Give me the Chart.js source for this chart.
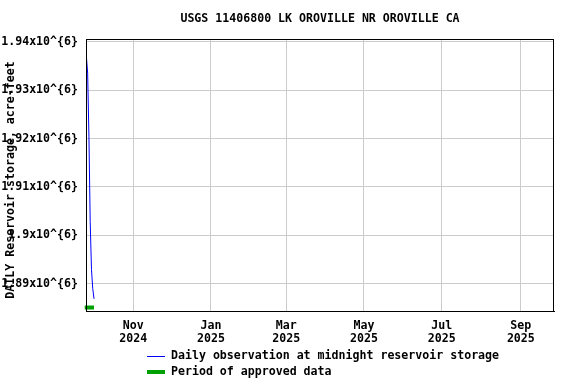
<!DOCTYPE html>
<html><head><meta charset="utf-8">
<script src="https://cdn.jsdelivr.net/npm/chart.js@4/dist/chart.umd.min.js"></script>
<style>html,body{margin:0;padding:0;background:#fff}canvas{display:block}</style>
</head><body>
<canvas id="c" width="576" height="384"></canvas>
<script>
// ---- data ----
const titleText = 'USGS 11406800 LK OROVILLE NR OROVILLE CA';
const yAxisTitle = 'DAILY Reservoir storage, acre-feet';
// midnight Pacific time observations (UTC timestamps)
const obsDates = ['2024-09-25T07:00','2024-09-26T07:00','2024-09-27T07:00','2024-09-28T07:00','2024-09-29T07:00','2024-09-30T07:00','2024-10-01T07:00'];
const obsStorage = [1937000, 1933500, 1920500, 1902900, 1893000, 1889000, 1886900];
const approvedDates = ['2024-09-24T00:00','2024-10-01T07:00'];
const approvedLevel = [1885110, 1885110];
const xTickDates = ['2024-11-01T00:00','2025-01-01T00:00','2025-03-01T00:00','2025-05-01T00:00','2025-07-01T00:00','2025-09-01T00:00'];
const xTickLabels = [['Nov','2024'],['Jan','2025'],['Mar','2025'],['May','2025'],['Jul','2025'],['Sep','2025']];
const yTicks = [1890000, 1900000, 1910000, 1920000, 1930000, 1940000];
const xRange = ['2024-09-25T00:00','2025-09-27T00:00'];
const yRange = [1884390, 1940560];
const seriesLabels = ['Daily observation at midnight reservoir storage','Period of approved data'];

const day = s => Date.parse(s + ':00Z') / 86400000;
const FONT = '"DejaVu Sans Mono", monospace';
const FS = 11.6;

const decorations = {
  id: 'decorations',
  afterDraw(chart) {
    const ctx = chart.ctx, a = chart.chartArea;
    ctx.save();
    ctx.strokeStyle = '#000'; ctx.lineWidth = 1;
    ctx.strokeRect(Math.round(a.left) + 0.5, Math.round(a.top) + 0.5, Math.round(a.right - a.left) - 1, Math.round(a.bottom - a.top));
    ctx.fillStyle = '#000';
    ctx.font = 'bold ' + FS + 'px ' + FONT;
    ctx.textAlign = 'center'; ctx.textBaseline = 'middle';
    ctx.fillText(titleText, (a.left + a.right) / 2, 19);
    ctx.save();
    ctx.translate(11, 180); ctx.rotate(-Math.PI / 2);
    ctx.fillText(yAxisTitle, 0, 0);
    ctx.restore();
    // legend
    const ds = chart.data.datasets;
    const rows = [356, 372];
    ctx.textAlign = 'left';
    ds.forEach((d, i) => {
      const y = rows[i];
      ctx.strokeStyle = d.borderColor; ctx.lineWidth = i === 0 ? 1 : 4;
      ctx.beginPath(); ctx.moveTo(147, y + (i === 0 ? 0.5 : 0)); ctx.lineTo(165, y + (i === 0 ? 0.5 : 0)); ctx.stroke();
      ctx.fillStyle = '#000';
      ctx.fillText(d.label, 171, y);
    });
    ctx.restore();
  }
};

new Chart(document.getElementById('c'), {
  type: 'line',
  data: {
    datasets: [
      { label: seriesLabels[0], data: obsDates.map((d, i) => ({x: day(d), y: obsStorage[i]})),
        borderColor: '#0000ff', borderWidth: 1, pointRadius: 0, tension: 0, fill: false },
      { label: seriesLabels[1], data: approvedDates.map((d, i) => ({x: day(d), y: approvedLevel[i]})),
        borderColor: '#00a000', borderWidth: 4, pointRadius: 0, tension: 0, fill: false, clip: false, borderCapStyle: 'butt' }
    ]
  },
  options: {
    responsive: false, animation: false, devicePixelRatio: 1,
    layout: { padding: { top: 39, right: 22, left: 0, bottom: 0 } },
    plugins: { legend: { display: false }, title: { display: false }, tooltip: { enabled: false } },
    scales: {
      x: {
        type: 'linear', min: day(xRange[0]), max: day(xRange[1]),
        afterFit: s => { s.height = 73; },
        afterBuildTicks: s => { s.ticks = xTickDates.map(d => ({ value: day(d) })); },
        grid: { color: '#cccccc', lineWidth: 1, drawTicks: false },
        border: { display: true, color: '#000', width: 1 },
        ticks: { autoSkip: false, maxRotation: 0, padding: 8, color: '#000',
          font: { family: FONT, size: FS, weight: 'bold', lineHeight: 1.16 },
          callback: (v, i) => xTickLabels[i] }
      },
      y: {
        type: 'linear', min: yRange[0], max: yRange[1],
        afterFit: s => { s.width = 86; },
        afterBuildTicks: s => { s.ticks = yTicks.map(v => ({ value: v })); },
        grid: { color: '#cccccc', lineWidth: 1, drawTicks: false },
        border: { display: true, color: '#000', width: 1 },
        ticks: { padding: 8, color: '#000',
          font: { family: FONT, size: FS, weight: 'bold' },
          callback: v => String(+(v / 1e6).toFixed(2)) + 'x10^{6}' }
      }
    }
  },
  plugins: [decorations]
});
</script>
</body></html>
